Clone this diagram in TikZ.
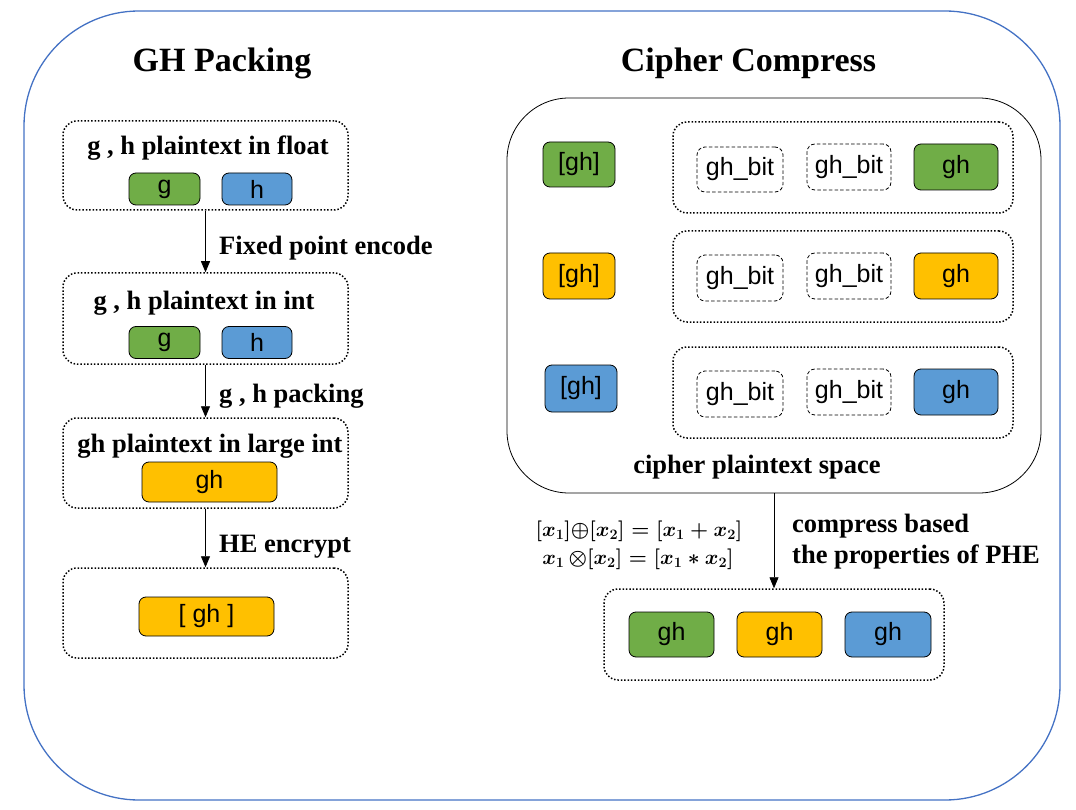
\documentclass[tikz,border=0pt]{standalone}
\usepackage{fontspec}
\setmainfont{Liberation Serif}
\newfontfamily\sansf{Liberation Sans}
\usetikzlibrary{arrows.meta}
\definecolor{cgreen}{HTML}{70AD47}
\definecolor{cblue}{HTML}{5B9BD5}
\definecolor{corange}{HTML}{FFC000}
\definecolor{frame}{HTML}{4472C4}
\tikzset{
  grp/.style={draw, line width=1.5pt, dash pattern=on 1.5pt off 1.9pt, rounded corners=14pt, inner sep=0pt},
  cbox/.style={draw, line width=0.8pt, rounded corners=7pt, inner sep=0pt, font=\sansf\fontsize{25}{28}\selectfont},
  bitbox/.style={draw, line width=0.8pt, dash pattern=on 3.5pt off 2.2pt, rounded corners=8pt, inner sep=0pt, font=\sansf\fontsize{25}{28}\selectfont},
  lbl/.style={font=\bfseries\fontsize{26.5}{31}\selectfont, inner sep=0pt},
  ttl/.style={font=\bfseries\fontsize{34}{38}\selectfont, inner sep=0pt},
  arr/.style={-{Triangle[width=9pt,length=11pt]}, line width=0.8pt},
  eqn/.style={inner sep=0pt, font=\fontsize{20.74}{28}\selectfont\boldmath},
}
\begin{document}
\begin{tikzpicture}[x=1pt,y=-1pt]
\useasboundingbox (0,0) rectangle (1076,810);
% outer frame
\draw[frame, line width=1.3pt, rounded corners=115pt] (24,11) rectangle (1060,800);
% titles
\node[ttl, anchor=base] (t1) at (222,72) {GH Packing};
\node[ttl, anchor=base] (t2) at (748.5,72) {Cipher Compress};

% ---------- left column ----------
\node[grp, minimum width=285pt, minimum height=89pt] (b1) at (205.5,165.5) {};
\node[lbl, anchor=base] (b1t) at (208,155) {g , h plaintext in float};
\node[cbox, fill=cgreen, minimum width=71pt, minimum height=32pt] (g1) at (164.5,189) {g};
\node[cbox, fill=cblue, minimum width=70pt, minimum height=32pt] (h1) at (257,189) {h};

\node[grp, minimum width=285pt, minimum height=91pt] (b2) at (205.5,318.5) {};
\node[lbl, anchor=base] (b2t) at (204,309) {g , h plaintext in int};
\node[cbox, fill=cgreen, minimum width=71pt, minimum height=32pt] (g2) at (164.5,342.5) {g};
\node[cbox, fill=cblue, minimum width=70pt, minimum height=32pt] (h2) at (257,342.5) {h};

\node[grp, minimum width=285pt, minimum height=90pt] (b3) at (205.5,463) {};
\node[lbl, anchor=base] (b3t) at (210,452) {gh plaintext in large int};
\node[cbox, fill=corange, minimum width=135pt, minimum height=40pt] (gh3) at (209.5,482) {gh};

\node[grp, minimum width=285pt, minimum height=90pt] (b4) at (205.5,613) {};
\node[cbox, fill=corange, minimum width=135pt, minimum height=39pt] (gh4) at (206.5,616.5) {[ gh ]};

\draw[arr] (b1.south) -- (b2.north);
\draw[arr] (b2.south) -- (b3.north);
\draw[arr] (b3.south) -- (b4.north);
\node[lbl, anchor=base west] (l1) at (219,255) {Fixed point encode};
\node[lbl, anchor=base west] (l2) at (219,402) {g , h packing};
\node[lbl, anchor=base west] (l3) at (219,552) {HE encrypt};

% ---------- right column ----------
\node[draw, line width=0.8pt, rounded corners=62pt, minimum width=534pt, minimum height=395pt, inner sep=0pt] (big) at (774,295.5) {};
\node[lbl, anchor=base] (bigt) at (757,473) {cipher plaintext space};

\node[grp, minimum width=340pt, minimum height=91pt] (r1) at (843,167.5) {};
\node[grp, minimum width=340pt, minimum height=91pt] (r2) at (843,276.5) {};
\node[grp, minimum width=340pt, minimum height=91pt] (r3) at (843,392.5) {};

\node[cbox, fill=cgreen, minimum width=72pt, minimum height=45pt] (c1) at (579,164.5) {[gh]};
\node[cbox, fill=corange, minimum width=72pt, minimum height=46pt] (c2) at (579,276) {[gh]};
\node[cbox, fill=cblue, minimum width=72pt, minimum height=47pt] (c3) at (581,388.5) {[gh]};

\node[bitbox, minimum width=86pt, minimum height=45pt] (a1) at (740,169.5) {gh\_bit};
\node[bitbox, minimum width=84pt, minimum height=46pt] (d1) at (849,167) {gh\_bit};
\node[cbox, fill=cgreen, minimum width=84pt, minimum height=46pt] (e1) at (956,167) {gh};

\node[bitbox, minimum width=86pt, minimum height=46pt] (a2) at (740,278) {gh\_bit};
\node[bitbox, minimum width=84pt, minimum height=46pt] (d2) at (849,276) {gh\_bit};
\node[cbox, fill=corange, minimum width=84pt, minimum height=46pt] (e2) at (956,276) {gh};

\node[bitbox, minimum width=86pt, minimum height=46pt] (a3) at (740,394) {gh\_bit};
\node[bitbox, minimum width=84pt, minimum height=46pt] (d3) at (849,392) {gh\_bit};
\node[cbox, fill=cblue, minimum width=84pt, minimum height=46pt] (e3) at (956,392) {gh};

% bottom result
\node[grp, minimum width=340pt, minimum height=91pt] (bot) at (774,634.5) {};
\node[cbox, fill=cgreen, minimum width=85pt, minimum height=45pt] (f1) at (671.5,634.5) {gh};
\node[cbox, fill=corange, minimum width=85pt, minimum height=45pt] (f2) at (779.5,634.5) {gh};
\node[cbox, fill=cblue, minimum width=86pt, minimum height=45pt] (f3) at (888,634.5) {gh};

\draw[arr] (big.south) -- (bot.north);
\node[eqn] (eq1) at (639,531) {$[x_1]{\oplus}[x_2] = [x_1 + x_2]$};
\node[eqn] (eq2) at (638,559) {$x_1\,{\otimes}[x_2] = [x_1 \ast x_2]$};
\node[lbl, anchor=base west] (l4a) at (792,532) {compress based};
\node[lbl, anchor=base west] (l4b) at (792,563) {the properties of PHE};
\end{tikzpicture}
\end{document}
